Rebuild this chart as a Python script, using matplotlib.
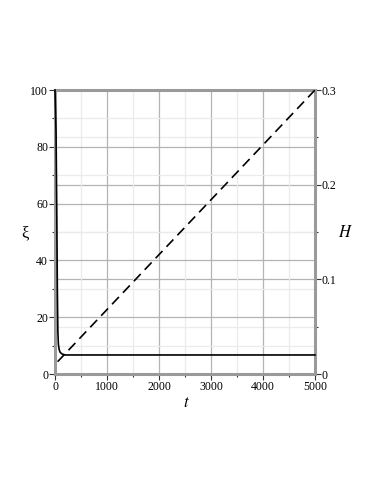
import numpy as np
import matplotlib
matplotlib.use('Agg')
import matplotlib.pyplot as plt
from matplotlib.ticker import MultipleLocator

# data
t_xi = [0, 20, 35, 45, 55, 65, 80, 100, 140, 200, 5000]
xi = [100, 85, 55, 30, 15, 10.5, 8.6, 7.6, 7.0, 6.7, 6.7]
t_H = [50, 5000]
H = [0.013, 0.3]

plt.rcParams['font.family'] = ['Liberation Serif', 'DejaVu Serif']
plt.rcParams['mathtext.fontset'] = 'stix'

fig = plt.figure(figsize=(3.82, 4.94), dpi=100)
ax = fig.add_axes([55/382, 1-374/494, 260/382, 284/494])
ax2 = ax.twinx()
# left axes drawn on top so its spines sit under the curves
ax.set_zorder(ax2.get_zorder() + 1)
ax.patch.set_visible(False)

spine_c = '#9a9a9a'
for s in ax.spines.values():
    s.set_color(spine_c)
    s.set_linewidth(2.2)
    s.set_zorder(2)
for s in ax2.spines.values():
    s.set_visible(False)

ax.set_xlim(0, 5000)
ax.set_ylim(0, 100)
ax2.set_ylim(0, 0.3)

ax.xaxis.set_major_locator(MultipleLocator(1000))
ax.xaxis.set_minor_locator(MultipleLocator(500))
ax.yaxis.set_major_locator(MultipleLocator(20))
ax.yaxis.set_minor_locator(MultipleLocator(10))
ax2.yaxis.set_minor_locator(MultipleLocator(0.05))
ax2.set_yticks([0, 0.1, 0.2, 0.3])
ax2.set_yticklabels(['0', '0.1', '0.2', '0.3'])

for a in (ax, ax2):
    a.grid(True, which='major', color='#b4b4b4', lw=0.9)
    a.grid(True, which='minor', color='#ebebeb', lw=0.9)
    a.set_axisbelow(True)
    a.tick_params(which='major', length=4, width=0.8, color='#333333',
                  labelsize=8.5, pad=1)
    a.tick_params(which='minor', length=2, width=0.8, color='#333333')

# H is on the right scale, drawn in the front axes so grid lines stay behind it
ax.plot(t_H, H, color='black', lw=1.2, dashes=(6, 3.5), zorder=3,
        transform=ax2.transData)
ax.plot(t_xi, xi, color='black', lw=1.2, zorder=3, clip_on=False)

fig.text(25/382, 1-233/494, 'ξ', ha='center', va='center', fontsize=12)
fig.text(345/382, 1-233/494, '$H$', ha='center', va='center', fontsize=12)
fig.text(186/382, 1-403/494, '$t$', ha='center', va='center', fontsize=12)

fig.savefig('out.png', dpi=100)
